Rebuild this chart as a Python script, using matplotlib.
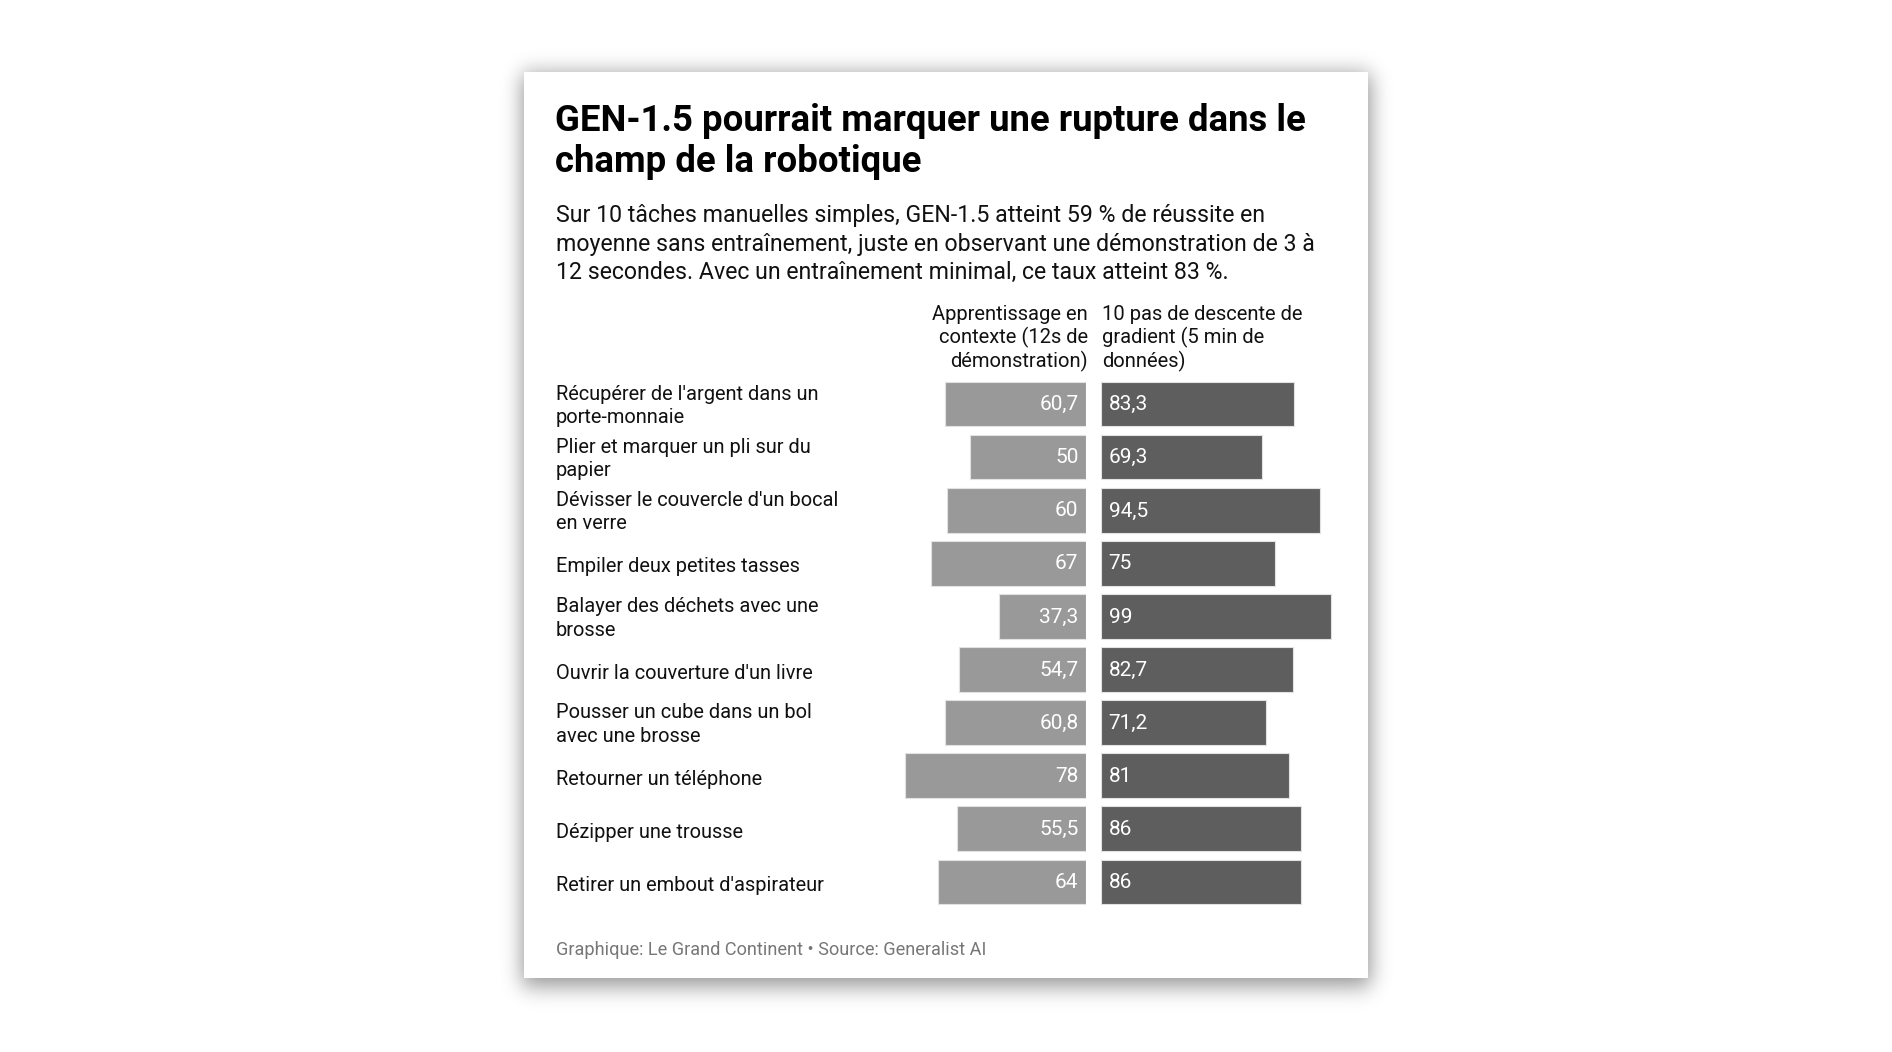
import math
import numpy as np
import matplotlib
matplotlib.use('Agg')
import matplotlib.pyplot as plt
from matplotlib.patches import Rectangle
from matplotlib.transforms import blended_transform_factory, ScaledTranslation

plt.rcParams['font.family'] = ['Roboto', 'DejaVu Sans']

tasks = [
    "Récupérer de l'argent dans un\nporte-monnaie",
    "Plier et marquer un pli sur du\npapier",
    "Dévisser le couvercle d'un bocal\nen verre",
    "Empiler deux petites tasses",
    "Balayer des déchets avec une\nbrosse",
    "Ouvrir la couverture d'un livre",
    "Pousser un cube dans un bol\navec une brosse",
    "Retourner un téléphone",
    "Dézipper une trousse",
    "Retirer un embout d'aspirateur",
]
icl_scores = [60.7, 50, 60, 67, 37.3, 54.7, 60.8, 78, 55.5, 64]
gd_scores = [83.3, 69.3, 94.5, 75, 99, 82.7, 71.2, 81, 86, 86]

title_lines = ["GEN-1.5 pourrait marquer une rupture dans le",
               "champ de la robotique"]
subtitle_lines = ["Sur 10 tâches manuelles simples, GEN-1.5 atteint 59 % de réussite en",
                  "moyenne sans entraînement, juste en observant une démonstration de 3 à",
                  "12 secondes. Avec un entraînement minimal, ce taux atteint 83 %."]
icl_header = ["Apprentissage en", "contexte (12s de", "démonstration)"]
gd_header = ["10 pas de descente de", "gradient (5 min de", "données)"]
footer = "Graphique: Le Grand Continent • Source: Generalist AI"

LIGHT = '#999999'
DARK = '#5e5e5e'
TEXT = '#111111'

W, H = 1892, 1052
fig = plt.figure(figsize=(W / 100, H / 100), dpi=100)
fig.patch.set_facecolor('white')

# background layer in pixel coordinates: shadow + white card
bg = fig.add_axes([0, 0, 1, 1])
bg.set_xlim(0, W)
bg.set_ylim(H, 0)
bg.axis('off')

cx0, cy0, cx1, cy1 = 524, 72, 1368, 978
erf = np.vectorize(math.erf)


def soft_box(n, a, b, sigma):
    x = np.arange(n) + 0.5
    return 0.5 * (erf((x - a) / (sigma * math.sqrt(2))) - erf((x - b) / (sigma * math.sqrt(2))))


sx = soft_box(W, cx0 - 2, cx1 + 2, 10)
sy = soft_box(H, cy0 + 2, cy1 + 8, 11)
alpha = 0.42 * np.outer(sy, sx)
shadow = np.zeros((H, W, 4))
shadow[..., 3] = alpha
bg.imshow(shadow, extent=(0, W, H, 0), zorder=0, interpolation='bilinear')
bg.add_patch(Rectangle((cx0, cy0), cx1 - cx0, cy1 - cy0, facecolor='white',
                       edgecolor='none', zorder=1))

# title / subtitle / headers / footer
for i, line in enumerate(title_lines):
    bg.text(555, 131 + i * 41, line, fontsize=26.3, fontweight='bold', color='black',
            va='baseline', ha='left', zorder=3)
for i, line in enumerate(subtitle_lines):
    bg.text(556, 222 + i * 28.5, line, fontsize=16.7, color=TEXT,
            va='baseline', ha='left', zorder=3)
for i, line in enumerate(icl_header):
    bg.text(1088, 320 + i * 23.5, line, fontsize=14.5, color=TEXT,
            va='baseline', ha='right', zorder=3)
for i, line in enumerate(gd_header):
    bg.text(1102, 320 + i * 23.5, line, fontsize=14.5, color=TEXT,
            va='baseline', ha='left', zorder=3)
bg.text(556, 955, footer, fontsize=13.1, color='#777777', va='baseline', ha='left', zorder=3)

# bar axes
px_per_unit = 2.32
row0, pitch = 404, 53.1
n = len(tasks)
top_px = row0 - pitch / 2
bot_px = row0 + (n - 1) * pitch + pitch / 2
ax_b = 1 - bot_px / H
ax_h = (bot_px - top_px) / H
span = 100 * px_per_unit

ax_l = fig.add_axes([(1086 - span) / W, ax_b, span / W, ax_h])
ax_r = fig.add_axes([1101 / W, ax_b, span / W, ax_h])
y = np.arange(n)

for ax, vals, col in [(ax_l, icl_scores, LIGHT), (ax_r, gd_scores, DARK)]:
    ax.barh(y, vals, height=0.84, color=col, edgecolor='#e2e2e2', linewidth=0.8)
    ax.set_ylim(n - 0.5, -0.5)
    ax.set_xlim(0, 100)
    ax.axis('off')
    ax.patch.set_alpha(0)
ax_l.invert_xaxis()

fmt = lambda v: f"{v:g}".replace('.', ',')
for i, v in enumerate(icl_scores):
    ax_l.annotate(fmt(v), (0, i), xytext=(-5.5, -0.5), textcoords='offset points',
                  ha='right', va='center', color='white', fontsize=15)
for i, v in enumerate(gd_scores):
    ax_r.annotate(fmt(v), (0, i), xytext=(5.5, -0.5), textcoords='offset points',
                  ha='left', va='center', color='white', fontsize=15)

# task labels, nudged down a couple of pixels
nudge = ScaledTranslation(0, -2 / 100, fig.dpi_scale_trans)
trans = blended_transform_factory(fig.transFigure, ax_l.transData) + nudge
for i, t in enumerate(tasks):
    dy = 0 if '\n' in t else -1.5 / 100
    ax_l.text(556 / W, i, t, transform=trans + ScaledTranslation(0, dy, fig.dpi_scale_trans),
              ha='left', va='center', fontsize=14.4, color=TEXT, linespacing=1.3)

fig.savefig('out.png', dpi=100, facecolor='white')
